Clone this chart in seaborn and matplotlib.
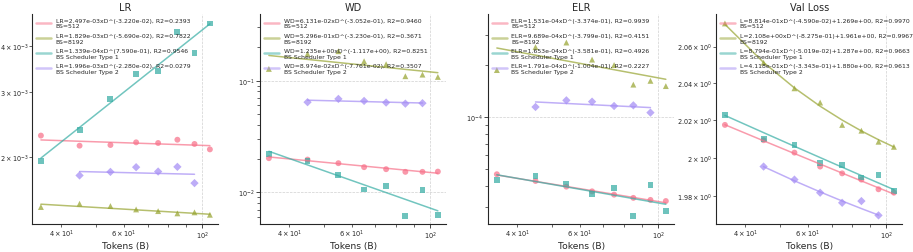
import numpy as np
import pandas as pd
import matplotlib
matplotlib.use("Agg")
import matplotlib.pyplot as plt
import seaborn as sns

# ---------------- data ----------------
tokens = [35, 45, 55, 65, 75, 85, 95, 105]
tokens_type2 = [45, 55, 65, 75, 85, 95]
series_names = ["BS=512", "BS=8192", "BS Scheduler Type 1", "BS Scheduler Type 2"]
panel_titles = ["LR", "WD", "ELR", "Val Loss"]
panel_prefix = ["LR", "WD", "ELR", "L"]

# LR
lr_bs512 = [2.288e-3, 2.149e-3, 2.158e-3, 2.194e-3, 2.185e-3, 2.230e-3, 2.172e-3, 2.100e-3]
lr_bs8192 = [1.468e-3, 1.498e-3, 1.477e-3, 1.446e-3, 1.431e-3, 1.411e-3, 1.420e-3, 1.399e-3]
lr_type1 = [1.95e-3, 2.37e-3, 2.865e-3, 3.35e-3, 3.41e-3, 4.36e-3, 3.83e-3, 4.59e-3]
lr_type2 = [1.786e-3, 1.826e-3, 1.880e-3, 1.830e-3, 1.884e-3, 1.703e-3]
# WD
wd_bs512 = [2.02e-2, 1.963e-2, 1.822e-2, 1.679e-2, 1.61e-2, 1.524e-2, 1.524e-2, 1.532e-2]
wd_bs8192 = [0.1273, 0.1734, 0.1834, 0.1492, 0.1403, 0.1095, 0.1132, 0.1079]
wd_type1 = [2.21e-2, 1.923e-2, 1.432e-2, 1.06e-2, 1.148e-2, 6.11e-3, 1.05e-2, 6.24e-3]
wd_type2 = [0.0641, 0.0686, 0.0658, 0.0636, 0.0622, 0.0628]
# ELR
elr_bs512 = [4.66e-5, 4.26e-5, 3.95e-5, 3.71e-5, 3.55e-5, 3.40e-5, 3.31e-5, 3.26e-5]
elr_bs8192 = [1.87e-4, 2.54e-4, 2.70e-4, 2.15e-4, 2.00e-4, 1.54e-4, 1.62e-4, 1.51e-4]
elr_type1 = [4.32e-5, 4.55e-5, 4.09e-5, 3.57e-5, 3.90e-5, 2.66e-5, 4.02e-5, 2.87e-5]
elr_type2 = [1.143e-4, 1.249e-4, 1.227e-4, 1.158e-4, 1.168e-4, 1.06e-4]
# Val Loss
loss_bs512 = [2.0176, 2.0094, 2.0028, 1.9954, 1.9918, 1.9885, 1.9834, 1.9816]
loss_bs8192 = [2.0727, 2.0512, 2.0373, 2.0296, 2.0176, 2.0145, 2.0086, 2.0059]
loss_type1 = [2.0228, 2.0099, 2.0068, 1.9971, 1.9961, 1.9896, 1.9907, 1.9826]
loss_type2 = [1.9954, 1.9885, 1.9816, 1.9763, 1.9772, 1.9697]

# fitted power laws shown in legends: coefficient, exponent, (offset), R2
lr_fit_coef = [2.497e-03, 1.829e-03, 1.339e-04, 1.996e-03]
lr_fit_exp = [-3.220e-02, -5.690e-02, 7.590e-01, -2.280e-02]
lr_fit_r2 = [0.2393, 0.7822, 0.9546, 0.0279]
wd_fit_coef = [6.131e-02, 5.296e-01, 1.235e+00, 8.974e-02]
wd_fit_exp = [-3.052e-01, -3.230e-01, -1.117e+00, -7.761e-02]
wd_fit_r2 = [0.9460, 0.3671, 0.8251, 0.3507]
elr_fit_coef = [1.531e-04, 9.689e-04, 1.653e-04, 1.791e-04]
elr_fit_exp = [-3.374e-01, -3.799e-01, -3.581e-01, -1.004e-01]
elr_fit_r2 = [0.9939, 0.4151, 0.4926, 0.2227]
loss_fit_coef = [8.814e-01, 2.108e+00, 8.794e-01, 4.118e-01]
loss_fit_exp = [-4.590e-02, -8.275e-01, -5.019e-02, -3.343e-01]
loss_fit_off = [1.269e+00, 1.961e+00, 1.287e+00, 1.880e+00]
loss_fit_r2 = [0.9970, 0.9967, 0.9663, 0.9613]

# ---------------- style ----------------
sns.set_theme(style="ticks")
plt.rcParams["font.family"] = ["DejaVu Sans"]
plt.rcParams["axes.linewidth"] = 0.8
palette = dict(zip(series_names, sns.color_palette("husl", 4)))
markers = dict(zip(series_names, ["o", "^", "s", "D"]))

panels = [
    ([lr_bs512, lr_bs8192, lr_type1, lr_type2], lr_fit_coef, lr_fit_exp, None, lr_fit_r2, (1.321e-3, 4.87e-3)),
    ([wd_bs512, wd_bs8192, wd_type1, wd_type2], wd_fit_coef, wd_fit_exp, None, wd_fit_r2, (5.2e-3, 0.395)),
    ([elr_bs512, elr_bs8192, elr_type1, elr_type2], elr_fit_coef, elr_fit_exp, None, elr_fit_r2, (2.40e-5, 3.95e-4)),
    ([loss_bs512, loss_bs8192, loss_type1, loss_type2], loss_fit_coef, loss_fit_exp, loss_fit_off, loss_fit_r2, (1.9652, 2.0779)),
]

fig = plt.figure(figsize=(9.13, 2.53), dpi=100)
lefts = [0.0354, 0.2851, 0.5348, 0.7846]

for i, (vals, coefs, exps, offs, r2s, ylim) in enumerate(panels):
    ax = fig.add_axes([lefts[i], 0.1107, 0.2037, 0.830])
    ax.set_xscale("log")
    ax.set_yscale("log")
    rows = []
    for name, v in zip(series_names, vals):
        xs = tokens if len(v) == len(tokens) else tokens_type2
        for x, y in zip(xs, v):
            rows.append({"tokens": x, "value": y, "series": name})
    df = pd.DataFrame(rows)

    for j, name in enumerate(series_names):
        sub = df[df["series"] == name]
        xs = sub["tokens"].to_numpy(dtype=float)
        if offs is None:
            yfit = coefs[j] * xs ** exps[j]
            label = f"{panel_prefix[i]}={coefs[j]:.3e}xD^({exps[j]:.3e}), R2={r2s[j]:.4f}\n{name}"
        else:
            yfit = coefs[j] * xs ** exps[j] + offs[j]
            label = f"{panel_prefix[i]}={coefs[j]:.3e}xD^({exps[j]:.3e})+{offs[j]:.3e}, R2={r2s[j]:.4f}\n{name}"
        sns.lineplot(x=xs, y=yfit, ax=ax, color=palette[name], alpha=0.7,
                     linewidth=1.1, label=label, sort=False)

    sns.scatterplot(data=df, x="tokens", y="value", hue="series", style="series",
                    palette=palette, markers=markers, s=18, alpha=0.72,
                    linewidth=0, legend=False, ax=ax)

    ax.set_xlim(33.1, 110.9)
    ax.set_ylim(*ylim)
    ax.set_title(panel_titles[i], fontsize=7, pad=3)
    ax.set_xlabel("Tokens (B)", fontsize=6.6, labelpad=0)
    ax.set_ylabel("")
    ax.grid(True, which="major", linestyle="--", linewidth=0.5, color="#d0d0d0")
    ax.tick_params(which="major", length=3, width=0.6, labelsize=4.8, pad=1)
    ax.tick_params(which="minor", length=2, width=0.5, labelsize=4.8, pad=1)
    ax.tick_params(axis="y", which="both", labelsize=4.7, pad=0.8)
    sns.despine(ax=ax)
    leg = ax.legend(loc="upper left", frameon=False, fontsize=4.4, labelspacing=0.7,
                    handlelength=2.4, handletextpad=0.8, borderaxespad=0.3, borderpad=0.3)
    for ln in leg.get_lines():
        ln.set_linewidth(1.8)
        ln.set_alpha(0.5)

fig.savefig("out.png", dpi=100)
